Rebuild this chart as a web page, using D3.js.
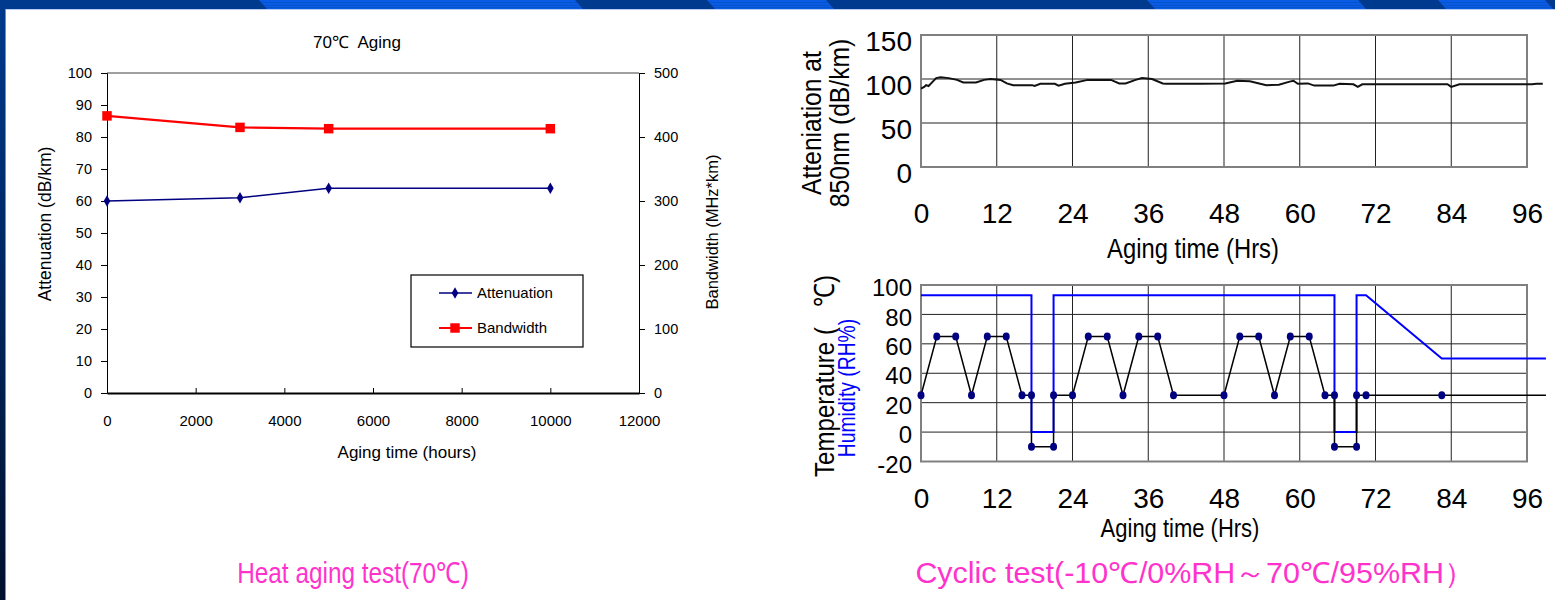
<!DOCTYPE html>
<html>
<head>
<meta charset="utf-8">
<script src="https://cdn.jsdelivr.net/npm/d3@7"></script>
<style>
body { margin: 0; background: #fff; }
svg { display: block; }
text { font-family: "Liberation Sans", Arial, sans-serif; fill: #000; white-space: pre; }
</style>
</head>
<body>
<svg id="slide" width="1555" height="600"></svg>
<script>
// ---- heat aging test (left chart)
var heatHours = [0, 3000, 5000, 10000];
var heatAtten = [60, 61, 64, 64];
var heatBandwidth = [433, 415, 413, 413];
var heatXTicks = [0, 2000, 4000, 6000, 8000, 10000, 12000];
var heatYTicks = [0, 10, 20, 30, 40, 50, 60, 70, 80, 90, 100];
var heatY2Ticks = [0, 100, 200, 300, 400, 500];

// ---- cyclic test, attenuation (top right)
var cycAttenHrs = [0, 0.5, 0.8, 1.2, 1.6, 2.4, 3.1, 4.4, 5.7, 6.7, 8.7, 10, 11, 12.6, 13.6, 14.6, 17.6, 18, 18.9,
    21.2, 21.8, 22.8, 24.5, 26.4, 30.1, 31.4, 32.4, 34, 35, 36.6, 38.3, 38.9, 44.2, 48.2, 50.1, 52.1, 54.7,
    56.7, 58.4, 59, 59.7, 61.3, 62.3, 65.3, 66.3, 68.5, 69.2, 69.9, 83.4, 84, 85.3, 96.8, 97.5, 98.5];
var cycAttenVals = [89, 91, 93, 92, 95, 101, 102, 101, 99, 96, 96, 99, 100, 99, 95, 93, 93, 92, 94.5,
    94.5, 92.5, 94.5, 96, 99, 99, 95, 95, 99, 101, 100, 95, 94.5, 94.5, 95, 98, 97.5, 93,
    93.5, 97, 98, 94.5, 95, 92.5, 92.5, 94.5, 94, 91, 94, 94, 91, 94, 94, 94.5, 94.5];
var cycXTicks = [0, 12, 24, 36, 48, 60, 72, 84, 96];
var cycAttenTicks = [0, 50, 100, 150];

// ---- cyclic test, temperature / humidity (bottom right)
var tempHrs = [0, 2.5, 5.5, 8, 10.5, 13.5, 16, 17.5, 17.5, 21, 21, 24, 26.5, 29.5, 32, 34.5, 37.5, 40, 48,
    50.5, 53.5, 56, 58.5, 61.5, 64, 65.5, 65.5, 69, 69, 70.5, 82.5, 99];
var tempVals = [25, 65, 65, 25, 65, 65, 25, 25, -10, -10, 25, 25, 65, 65, 25, 65, 65, 25, 25,
    65, 65, 25, 65, 65, 25, 25, -10, -10, 25, 25, 25, 25];
var humHrs = [0, 17.5, 17.5, 21, 21, 65.5, 65.5, 69, 69, 70.5, 82.5, 99];
var humVals = [93, 93, 0, 0, 93, 93, 0, 0, 93, 93, 50, 50];
var cycTempTicks = [-20, 0, 20, 40, 60, 80, 100];

var bannerStripes = [[259, 575], [707, 826], [1147, 1358], [1438, 1545]];

var svg = d3.select("#slide");
var plain = function (d) { return String(d); };

// horizontally squeezed text (the slide uses a narrow face)
function narrowText(x, y, str, size, sx, rot) {
    return svg.append("text")
        .attr("transform", "translate(" + x + "," + y + ")" + (rot ? " rotate(" + rot + ")" : "") + " scale(" + sx + ",1)")
        .attr("text-anchor", "middle").attr("font-size", size).text(str);
}

// ---- slide frame
var defs = svg.append("defs");
var grad = defs.append("linearGradient").attr("id", "sideGrad").attr("x1", 0).attr("y1", 0).attr("x2", 0).attr("y2", 1);
grad.append("stop").attr("offset", "0%").attr("stop-color", "#003a8e");
grad.append("stop").attr("offset", "100%").attr("stop-color", "#00102c");
svg.append("rect").attr("x", 0).attr("y", 0).attr("width", 1555).attr("height", 9).attr("fill", "#003a8e");
svg.selectAll(".stripe").data(bannerStripes).enter().append("polygon")
    .attr("points", function (d) { return [[d[0], 0], [d[1], 0], [d[1] + 8, 9], [d[0] + 8, 9]].join(" "); })
    .attr("fill", "#0a5be3");
svg.selectAll(".stripeLine").data([2, 5, 7]).enter().append("line")
    .attr("x1", 0).attr("x2", 1555).attr("y1", function (d) { return d + 0.5; }).attr("y2", function (d) { return d + 0.5; })
    .attr("stroke", "#003a8e").attr("stroke-opacity", 0.25);
svg.append("rect").attr("x", 0).attr("y", 0).attr("width", 6).attr("height", 600).attr("fill", "url(#sideGrad)");
svg.append("line").attr("x1", 6).attr("x2", 1555).attr("y1", 9.5).attr("y2", 9.5).attr("stroke", "#b4ccf2");
svg.append("line").attr("x1", 5.5).attr("x2", 5.5).attr("y1", 9).attr("y2", 600).attr("stroke", "#6f8fc4");

// ================= left chart =================
var hx = d3.scaleLinear().domain([0, 12000]).range([107, 639]);
var hy = d3.scaleLinear().domain([0, 100]).range([393, 73]);
var hy2 = d3.scaleLinear().domain([0, 500]).range([393, 73]);

function styleAxis(g, size) {
    g.attr("font-family", null).attr("font-size", size);
    g.selectAll("text").attr("fill", "#000");
    g.selectAll("line").attr("stroke", "#000");
    g.select(".domain").attr("stroke", "#000");
}

svg.append("line").attr("x1", hx(0)).attr("x2", hx(12000)).attr("y1", hy(100)).attr("y2", hy(100))
    .attr("stroke", "#808080").attr("stroke-width", 1.5);

var gxL = svg.append("g").attr("transform", "translate(0," + hy(0) + ")")
    .call(d3.axisBottom(hx).tickValues(heatXTicks).tickFormat(plain).tickSizeInner(-5).tickSizeOuter(0).tickPadding(22));
styleAxis(gxL, 15);
gxL.select(".domain").attr("stroke-width", 2);

var gyL = svg.append("g").attr("transform", "translate(" + hx(0) + ",0)")
    .call(d3.axisLeft(hy).tickValues(heatYTicks).tickFormat(plain).tickSize(6).tickPadding(9));
styleAxis(gyL, 14.5);

var gyR = svg.append("g").attr("transform", "translate(" + hx(12000) + ",0)")
    .call(d3.axisRight(hy2).tickValues(heatY2Ticks).tickFormat(plain).tickSize(6).tickPadding(9));
styleAxis(gyR, 14.5);

svg.append("path").datum(heatHours)
    .attr("d", d3.line().x(function (d) { return hx(d); }).y(function (d, i) { return hy(heatAtten[i]); }))
    .attr("fill", "none").attr("stroke", "#000080").attr("stroke-width", 1.5);
svg.selectAll(".attDot").data(heatHours).enter().append("path")
    .attr("d", d3.symbol(d3.symbolDiamond).size(38))
    .attr("transform", function (d, i) { return "translate(" + hx(d) + "," + hy(heatAtten[i]) + ")"; })
    .attr("fill", "#000080");

svg.append("path").datum(heatHours)
    .attr("d", d3.line().x(function (d) { return hx(d); }).y(function (d, i) { return hy2(heatBandwidth[i]); }))
    .attr("fill", "none").attr("stroke", "#ff0000").attr("stroke-width", 2.2);
svg.selectAll(".bwDot").data(heatHours).enter().append("path")
    .attr("d", d3.symbol(d3.symbolSquare).size(90))
    .attr("transform", function (d, i) { return "translate(" + hx(d) + "," + hy2(heatBandwidth[i]) + ")"; })
    .attr("fill", "#ff0000");

svg.append("text").attr("x", 357).attr("y", 48).attr("text-anchor", "middle").attr("font-size", 17).text("70℃  Aging");
svg.append("text").attr("transform", "translate(51,224) rotate(-90)").attr("text-anchor", "middle")
    .attr("font-size", 17.5).text("Attenuation (dB/km)");
svg.append("text").attr("transform", "translate(718,232) rotate(-90)").attr("text-anchor", "middle")
    .attr("font-size", 16.5).text("Bandwidth (MHz*km)");
svg.append("text").attr("x", 407).attr("y", 458).attr("text-anchor", "middle").attr("font-size", 17).text("Aging time (hours)");

// legend
var legend = svg.append("g").attr("transform", "translate(411,275)");
legend.append("rect").attr("width", 172).attr("height", 72).attr("fill", "#fff").attr("stroke", "#000").attr("stroke-width", 1.2);
var legItems = [
    { name: "Attenuation", color: "#000080", sym: d3.symbolDiamond, size: 38, w: 1.5, y: 18 },
    { name: "Bandwidth", color: "#ff0000", sym: d3.symbolSquare, size: 90, w: 2.2, y: 53 }
];
legItems.forEach(function (it) {
    legend.append("line").attr("x1", 28).attr("x2", 61).attr("y1", it.y).attr("y2", it.y)
        .attr("stroke", it.color).attr("stroke-width", it.w);
    legend.append("path").attr("d", d3.symbol(it.sym).size(it.size)).attr("transform", "translate(44," + it.y + ")").attr("fill", it.color);
    legend.append("text").attr("x", 66).attr("y", it.y + 5).attr("font-size", 15).text(it.name);
});

// ================= top right chart =================
var cx = d3.scaleLinear().domain([0, 96]).range([921, 1527]);
var ay = d3.scaleLinear().domain([0, 150]).range([167, 35]);

svg.selectAll(".aVgrid").data(cycXTicks.slice(1, -1)).enter().append("line")
    .attr("x1", function (d) { return cx(d); }).attr("x2", function (d) { return cx(d); })
    .attr("y1", ay(150)).attr("y2", ay(0)).attr("stroke", "#222").attr("stroke-width", 1);
svg.selectAll(".aHgrid").data([50, 100]).enter().append("line")
    .attr("x1", cx(0)).attr("x2", cx(96)).attr("y1", function (d) { return ay(d); }).attr("y2", function (d) { return ay(d); })
    .attr("stroke", "#222").attr("stroke-width", 1);
svg.append("rect").attr("x", cx(0)).attr("y", ay(150)).attr("width", cx(96) - cx(0)).attr("height", ay(0) - ay(150))
    .attr("fill", "none").attr("stroke", "#808080").attr("stroke-width", 2);

svg.append("path").datum(cycAttenHrs)
    .attr("d", d3.line().x(function (d) { return cx(d); }).y(function (d, i) { return ay(cycAttenVals[i]); }))
    .attr("fill", "none").attr("stroke", "#111").attr("stroke-width", 2);

var gyA = svg.append("g").attr("transform", "translate(" + cx(0) + ",0)")
    .call(d3.axisLeft(ay).tickValues(cycAttenTicks).tickFormat(plain).tickSize(0).tickPadding(9));
styleAxis(gyA, 28);
gyA.select(".domain").remove();
gyA.selectAll("text").attr("y", 7);

var gxA = svg.append("g").attr("transform", "translate(0," + ay(0) + ")")
    .call(d3.axisBottom(cx).tickValues(cycXTicks).tickFormat(plain).tickSize(0).tickPadding(36));
styleAxis(gxA, 28);
gxA.select(".domain").remove();

narrowText(1193, 258, "Aging time (Hrs)", 28, 0.85);
narrowText(821, 123, "Atteniation at", 28, 0.88, -90);
narrowText(849, 123, "850nm (dB/km)", 28, 0.88, -90);

// ================= bottom right chart =================
var ty = d3.scaleLinear().domain([-20, 100]).range([461.5, 285]);

svg.selectAll(".tVgrid").data(cycXTicks.slice(1, -1)).enter().append("line")
    .attr("x1", function (d) { return cx(d); }).attr("x2", function (d) { return cx(d); })
    .attr("y1", ty(100)).attr("y2", ty(-20)).attr("stroke", "#222").attr("stroke-width", 1);
svg.selectAll(".tHgrid").data(cycTempTicks.slice(1, -1)).enter().append("line")
    .attr("x1", cx(0)).attr("x2", cx(96)).attr("y1", function (d) { return ty(d); }).attr("y2", function (d) { return ty(d); })
    .attr("stroke", "#222").attr("stroke-width", 1);
svg.append("rect").attr("x", cx(0)).attr("y", ty(100)).attr("width", cx(96) - cx(0)).attr("height", ty(-20) - ty(100))
    .attr("fill", "none").attr("stroke", "#808080").attr("stroke-width", 2);

svg.append("path").datum(humHrs)
    .attr("d", d3.line().x(function (d) { return cx(d); }).y(function (d, i) { return ty(humVals[i]); }))
    .attr("fill", "none").attr("stroke", "#0000ff").attr("stroke-width", 2);
svg.append("path").datum(tempHrs)
    .attr("d", d3.line().x(function (d) { return cx(d); }).y(function (d, i) { return ty(tempVals[i]); }))
    .attr("fill", "none").attr("stroke", "#000").attr("stroke-width", 1.5);
svg.selectAll(".tDot").data(tempHrs.slice(0, -1)).enter().append("ellipse")
    .attr("cx", function (d) { return cx(d); }).attr("cy", function (d, i) { return ty(tempVals[i]); })
    .attr("rx", 3.5).attr("ry", 4).attr("fill", "#000080");

var gyT = svg.append("g").attr("transform", "translate(" + cx(0) + ",0)")
    .call(d3.axisLeft(ty).tickValues(cycTempTicks).tickFormat(plain).tickSize(0).tickPadding(9));
styleAxis(gyT, 24);
gyT.select(".domain").remove();
gyT.selectAll("text").attr("y", 3);

var gxT = svg.append("g").attr("transform", "translate(0," + ty(-20) + ")")
    .call(d3.axisBottom(cx).tickValues(cycXTicks).tickFormat(plain).tickSize(0).tickPadding(27));
styleAxis(gxT, 28);
gxT.select(".domain").remove();

narrowText(1180, 537, "Aging time (Hrs)", 25, 0.88);
narrowText(834, 376, "Temperature (   ℃)", 28, 0.86, -90);
narrowText(855, 388, "Humidity (RH%)", 23, 0.84, -90).style("fill", "#0000ff");

// ================= captions =================
narrowText(353, 583, "Heat aging test(70℃)", 29, 0.84).style("fill", "#ff33cc");
narrowText(1195, 583, "Cyclic test(-10℃/0%RH～70℃/95%RH）", 29, 1.05).style("fill", "#ff33cc");
</script>
</body>
</html>
